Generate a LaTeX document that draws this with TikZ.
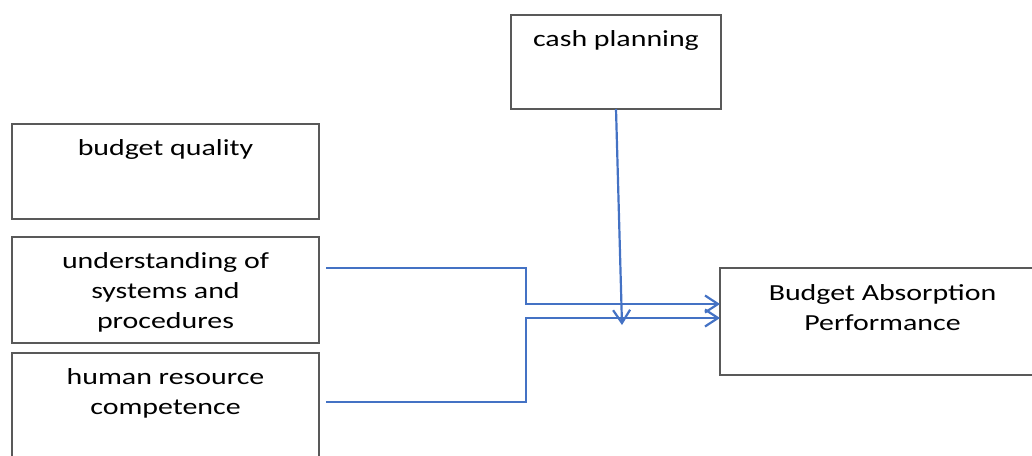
\documentclass[tikz,border=0pt]{standalone}
\usepackage{fontspec}
\setmainfont{Carlito}[FakeStretch=1.3]
\usepackage{xcolor}
\definecolor{linkblue}{RGB}{68,114,196}
\usetikzlibrary{arrows.meta}

\begin{document}
\begin{tikzpicture}[x=1pt, y=-1pt,
  box/.style={draw=black!65, line width=1.3pt, inner sep=0pt, outer sep=0pt, anchor=north west, font=\fontsize{23}{30}\selectfont},
  arr/.style={draw=linkblue, line width=2.2pt, -{Straight Barb[length=13pt,width=17pt]}}
]
\useasboundingbox (0,0) rectangle (1032,455);
\clip (0,0) rectangle (1032,455);
\node[box] (cash) at (511,15) {\parbox[c][94pt][t]{210pt}{\centering\rule{0pt}{31pt}cash planning}};
\node[box] (bq) at (12,124) {\parbox[c][95pt][t]{307pt}{\centering\rule{0pt}{31pt}budget quality}};
\node[box] (usp) at (12,237) {\parbox[c][106pt][t]{307pt}{\centering\rule{0pt}{31pt}understanding of\\systems and\\procedures}};
\node[box] (hrc) at (12,353) {\parbox[c][115pt][t]{307pt}{\centering\rule{0pt}{31pt}human resource\\competence}};
\node[box] (bap) at (720,268) {\parbox[c][107pt][t]{325pt}{\centering\rule{0pt}{32pt}Budget Absorption\\Performance}};
\coordinate (j1) at (526,304);
\coordinate (j2) at (526,318);
\coordinate (hit) at (622,325);
% links into the target box
\draw[arr, shorten <=7pt] ([yshift=-31pt]usp.north east) -| (j1) -- (j1 -| bap.west);
\draw[arr, shorten <=7pt] ([yshift=-49pt]hrc.north east) -| (j2) -- (j2 -| bap.west);
\draw[arr] (cash.south) -- (hit);
\end{tikzpicture}
\end{document}
